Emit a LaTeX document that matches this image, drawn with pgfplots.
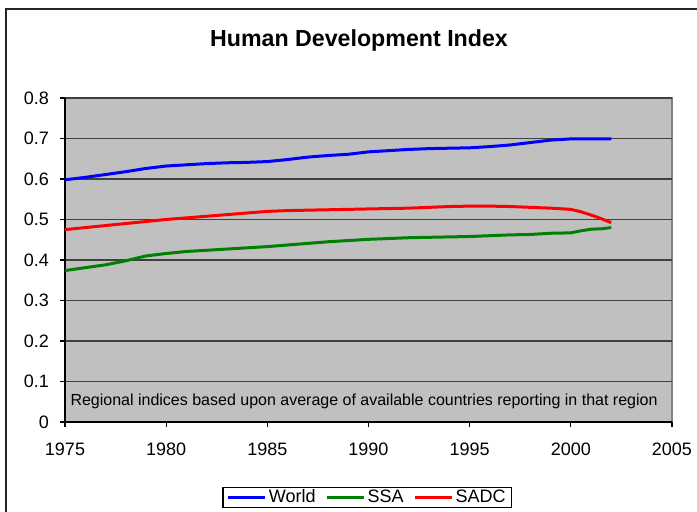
\documentclass[border=0pt]{standalone}
\usepackage{pgfplots}
\pgfplotsset{compat=1.18}
\usepackage{fontspec}
\setmainfont{Liberation Sans}
\definecolor{plotbg}{RGB}{192,192,192}
\definecolor{xlblue}{RGB}{0,0,255}
\definecolor{xlgreen}{RGB}{0,128,0}
\definecolor{xlred}{RGB}{255,0,0}
\begin{document}
\begin{tikzpicture}
\path[use as bounding box] (0,0) rectangle (348.5pt,256pt);
\draw[line width=1pt, black!85] (3pt,-20pt) -- (3pt,251.5pt) -- (400pt,251.5pt);
\node[font=\bfseries\fontsize{11.6}{13}\selectfont] at (179.5pt,235.8pt) {Human Development Index};
\begin{axis}[
  at={(32.5pt,45pt)}, anchor=south west,
  scale only axis, width=303.5pt, height=162pt,
  xmin=1975, xmax=2005, ymin=0, ymax=0.8,
  axis lines=left, axis line style={-, black, line width=0.6pt},
  axis background/.style={fill=plotbg, draw=black!50, line width=0.8pt},
  xtick={1975,1980,1985,1990,1995,2000,2005},
  xticklabels={1975,1980,1985,1990,1995,2000,2005},
  ytick={0,0.1,0.2,0.3,0.4,0.5,0.6,0.7,0.8},
  yticklabels={0,0.1,0.2,0.3,0.4,0.5,0.6,0.7,0.8},
  tick align=outside, major tick length=2.5pt,
  tick style={black, line width=0.6pt},
  ticklabel style={font=\fontsize{9}{10.8}\selectfont},
  xticklabel style={yshift=-4.2pt},
  yticklabel style={xshift=-2pt},
  ymajorgrids, grid style={black!75, line width=0.6pt},
  legend style={at={(0.498,-0.2006)}, anchor=north, legend columns=3,
    draw=black, line width=0.6pt, font=\fontsize{9}{10.8}\selectfont,
    inner xsep=2pt, inner ysep=0pt, nodes={inner sep=1pt},
    /tikz/every even column/.append style={column sep=4pt}},
  legend image code/.code={\draw[#1, line width=1.5pt] (0pt,0pt) -- (18.5pt,0pt);},
  clip=false,
]
\addplot[xlblue, line width=1.5pt] coordinates {
(1975,0.598)(1976,0.604)(1977,0.611)(1978,0.618)(1979,0.626)(1980,0.632)
(1981,0.635)(1982,0.638)(1983,0.640)(1984,0.641)(1985,0.643)(1986,0.648)
(1987,0.654)(1988,0.658)(1989,0.661)(1990,0.667)(1991,0.670)(1992,0.673)
(1993,0.675)(1994,0.676)(1995,0.677)(1996,0.680)(1997,0.684)(1998,0.690)
(1999,0.696)(2000,0.699)(2001,0.699)(2002,0.699)};
\addlegendentry{World}
\addplot[xlgreen, line width=1.5pt] coordinates {
(1975,0.374)(1976,0.381)(1977,0.388)(1978,0.398)(1979,0.410)(1980,0.416)
(1981,0.421)(1982,0.424)(1983,0.427)(1984,0.430)(1985,0.433)(1986,0.437)
(1987,0.441)(1988,0.445)(1989,0.448)(1990,0.451)(1991,0.453)(1992,0.455)
(1993,0.456)(1994,0.457)(1995,0.458)(1996,0.460)(1997,0.462)(1998,0.463)
(1999,0.466)(2000,0.467)(2000.5,0.472)(2001,0.476)(2001.5,0.477)(2002,0.480)};
\addlegendentry{SSA}
\addplot[xlred, line width=1.5pt] coordinates {
(1975,0.475)(1976,0.480)(1977,0.485)(1978,0.490)(1979,0.495)(1980,0.500)
(1981,0.504)(1982,0.508)(1983,0.512)(1984,0.516)(1985,0.520)(1986,0.522)
(1987,0.523)(1988,0.524)(1989,0.525)(1990,0.526)(1991,0.527)(1992,0.528)
(1993,0.530)(1994,0.532)(1995,0.533)(1996,0.533)(1997,0.532)(1998,0.530)
(1999,0.528)(2000,0.525)(2000.5,0.519)(2001,0.511)(2001.5,0.502)(2002,0.492)};
\addlegendentry{SADC}
\node[font=\fontsize{8}{9.6}\selectfont] at (axis cs:1989.78,0.052) {Regional indices based upon average of available countries reporting in that region};
\end{axis}
\end{tikzpicture}
\end{document}
